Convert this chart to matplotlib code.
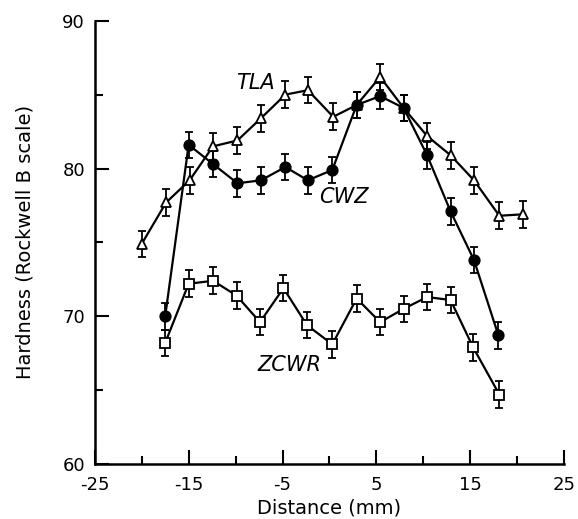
import numpy as np
import matplotlib
matplotlib.use("Agg")
import matplotlib.pyplot as plt
from matplotlib.ticker import MultipleLocator

plt.rcParams["axes.unicode_minus"] = False

# values
tla_x = [-20.0, -17.4, -14.9, -12.4, -9.8, -7.3, -4.7, -2.3, 0.4, 2.9, 5.4, 7.9, 10.4, 12.9, 15.4, 18.1, 20.6]
tla_y = [74.9, 77.7, 79.2, 81.5, 81.9, 83.4, 85.0, 85.3, 83.5, 84.3, 86.2, 84.1, 82.2, 80.9, 79.2, 76.8, 76.9]

cwz_x = [-17.5, -15.0, -12.4, -9.8, -7.3, -4.7, -2.3, 0.3, 2.9, 5.4, 7.9, 10.4, 12.9, 15.4, 18.0]
cwz_y = [70.0, 81.6, 80.3, 79.0, 79.2, 80.1, 79.2, 79.9, 84.3, 84.9, 84.1, 80.9, 77.1, 73.8, 68.7]

zcwr_x = [-17.5, -15.0, -12.4, -9.9, -7.4, -4.9, -2.4, 0.3, 2.9, 5.4, 7.9, 10.4, 12.9, 15.3, 18.1]
zcwr_y = [68.2, 72.2, 72.4, 71.4, 69.6, 71.9, 69.4, 68.1, 71.2, 69.6, 70.5, 71.3, 71.1, 67.9, 64.7]

err = 0.9


def draw(ax, x, y, marker, face):
    ax.errorbar(x, y, yerr=err, color="black", lw=1.6, elinewidth=1.3,
                capsize=3, capthick=1.3, marker=marker, markersize=7.5,
                markerfacecolor=face, markeredgecolor="black",
                markeredgewidth=1.3)


fig = plt.figure(figsize=(5.78, 5.19), dpi=100)
ax = fig.add_axes([0.164, 0.106, 0.812, 0.854])

draw(ax, tla_x, tla_y, "^", "white")
draw(ax, zcwr_x, zcwr_y, "s", "white")
draw(ax, cwz_x, cwz_y, "o", "black")

ax.text(-7.9, 85.8, "TLA", style="italic", fontsize=15, ha="center", va="center")
ax.text(1.5, 78.1, "CWZ", style="italic", fontsize=15, ha="center", va="center")
ax.text(-4.3, 66.7, "ZCWR", style="italic", fontsize=15, ha="center", va="center")

ax.set_xlim(-25, 25)
ax.set_ylim(60, 90)
ax.set_xticks([-25, -15, -5, 5, 15, 25])
ax.xaxis.set_minor_locator(MultipleLocator(5))
ax.yaxis.set_major_locator(MultipleLocator(10))
ax.yaxis.set_minor_locator(MultipleLocator(5))
ax.tick_params(which="major", direction="in", length=10, width=1.5, labelsize=13)
ax.tick_params(axis="x", which="major", pad=9)
ax.tick_params(axis="y", which="major", pad=7)
ax.tick_params(which="minor", direction="in", length=6, width=1.5)
ax.spines["top"].set_visible(False)
ax.spines["right"].set_visible(False)
ax.spines["left"].set_linewidth(1.8)
ax.spines["bottom"].set_linewidth(1.8)

ax.set_xlabel("Distance (mm)", fontsize=14, labelpad=3)
ax.set_ylabel("Hardness (Rockwell B scale)", fontsize=14, labelpad=20)

fig.savefig("out.png", dpi=100)
